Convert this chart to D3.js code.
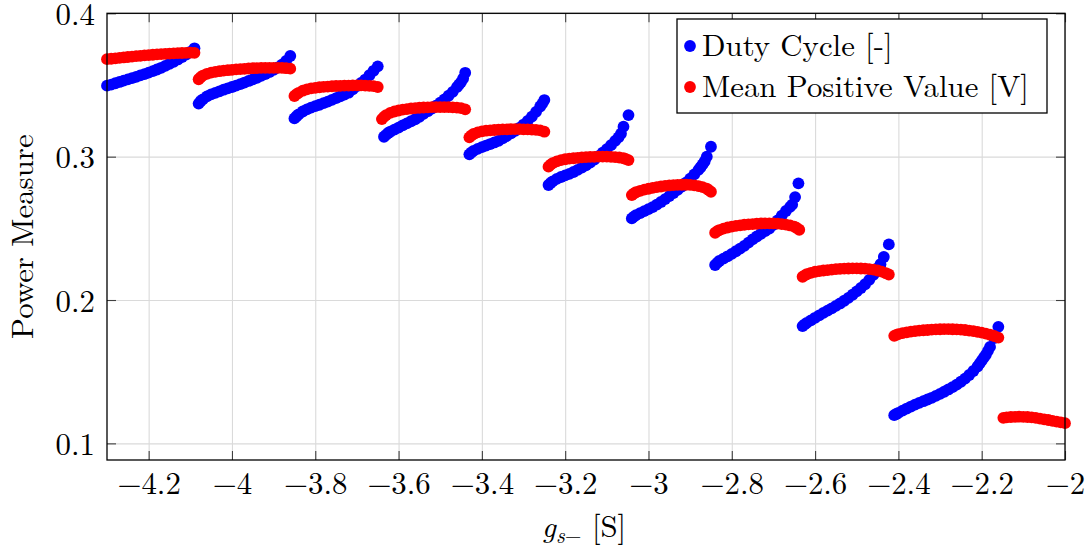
<!DOCTYPE html>
<html>
<head>
<meta charset="utf-8">
<script src="https://cdn.jsdelivr.net/npm/d3@7"></script>
<style>
  html, body { margin: 0; padding: 0; background: #fff; }
</style>
</head>
<body>
<svg id="chart" width="1091" height="551"></svg>
<script>
// ---- data ----
const xTicks = [-4.2, -4, -3.8, -3.6, -3.4, -3.2, -3, -2.8, -2.6, -2.4, -2.2, -2];
const yTicks = [0.1, 0.2, 0.3, 0.4];
const seriesNames = ["Duty Cycle [-]", "Mean Positive Value [V]"];
const seriesColors = ["#0000ff", "#ff0000"];

// Duty Cycle [-]  : [g_s-, value]
const dutyCycle = [
  // segment 1
  [-4.30,.3495],[-4.29,.3503],[-4.28,.3512],[-4.27,.3521],[-4.26,.3530],[-4.25,.3539],[-4.24,.3548],
  [-4.23,.3557],[-4.22,.3567],[-4.21,.3576],[-4.20,.3586],[-4.19,.3597],[-4.18,.3608],[-4.17,.3620],
  [-4.16,.3633],[-4.15,.3647],[-4.14,.3662],[-4.13,.3678],[-4.12,.3695],[-4.11,.3712],[-4.10,.3731],
  [-4.09,.3756],
  // segment 2
  [-4.08,.3370],[-4.075,.3388],[-4.07,.3400],[-4.06,.3420],[-4.05,.3434],[-4.04,.3445],[-4.03,.3456],
  [-4.02,.3467],[-4.01,.3477],[-4.00,.3486],[-3.99,.3496],[-3.98,.3506],[-3.97,.3517],[-3.96,.3528],
  [-3.95,.3539],[-3.94,.3550],[-3.93,.3563],[-3.92,.3576],[-3.91,.3590],[-3.90,.3605],[-3.89,.3622],
  [-3.88,.3642],[-3.87,.3668],[-3.86,.3702],
  // segment 3
  [-3.85,.3267],[-3.845,.3282],[-3.84,.3295],[-3.83,.3315],[-3.82,.3330],[-3.81,.3342],[-3.80,.3352],
  [-3.79,.3362],[-3.78,.3373],[-3.77,.3384],[-3.76,.3396],[-3.75,.3408],[-3.74,.3421],[-3.73,.3433],
  [-3.72,.3446],[-3.71,.3469],[-3.70,.3492],[-3.69,.3515],[-3.68,.3538],[-3.67,.3568],[-3.66,.3599],
  [-3.65,.3630],
  // segment 4
  [-3.635,.3139],[-3.63,.3152],[-3.625,.3165],[-3.62,.3174],[-3.61,.3189],[-3.60,.3203],[-3.59,.3218],
  [-3.58,.3232],[-3.57,.3247],[-3.56,.3261],[-3.55,.3278],[-3.54,.3298],[-3.53,.3317],[-3.52,.3336],
  [-3.51,.3356],[-3.50,.3377],[-3.49,.3400],[-3.48,.3425],[-3.47,.3452],[-3.46,.3485],[-3.455,.3503],
  [-3.45,.3520],[-3.445,.3545],[-3.44,.3585],
  // segment 5
  [-3.43,.3016],[-3.425,.3030],[-3.42,.3040],[-3.41,.3054],[-3.40,.3066],[-3.39,.3077],[-3.38,.3088],
  [-3.37,.3099],[-3.36,.3110],[-3.35,.3127],[-3.34,.3145],[-3.33,.3162],[-3.32,.3180],[-3.31,.3200],
  [-3.30,.3224],[-3.29,.3250],[-3.28,.3279],[-3.27,.3312],[-3.26,.3350],[-3.255,.3370],[-3.25,.3395],
  // segment 6
  [-3.24,.2802],[-3.235,.2816],[-3.23,.2828],[-3.22,.2845],[-3.21,.2858],[-3.20,.2869],[-3.19,.2880],
  [-3.18,.2893],[-3.17,.2908],[-3.16,.2923],[-3.15,.2940],[-3.14,.2959],[-3.13,.2980],[-3.12,.3003],
  [-3.11,.3028],[-3.10,.3053],[-3.09,.3080],[-3.08,.3110],[-3.072,.3135],[-3.066,.3160],[-3.06,.3209],
  [-3.048,.3290],
  // segment 7
  [-3.04,.2569],[-3.035,.2582],[-3.03,.2592],[-3.02,.2606],[-3.01,.2620],[-3.00,.2634],[-2.99,.2648],
  [-2.98,.2665],[-2.97,.2684],[-2.96,.2704],[-2.95,.2725],[-2.94,.2746],[-2.93,.2768],[-2.92,.2792],
  [-2.91,.2818],[-2.90,.2846],[-2.89,.2876],[-2.88,.2908],[-2.875,.2926],[-2.87,.2946],[-2.865,.2968],
  [-2.86,.3000],[-2.85,.3069],
  // segment 8
  [-2.84,.2244],[-2.835,.2259],[-2.83,.2272],[-2.82,.2289],[-2.81,.2305],[-2.80,.2322],[-2.79,.2340],
  [-2.78,.2359],[-2.77,.2378],[-2.76,.2400],[-2.75,.2423],[-2.74,.2443],[-2.73,.2462],[-2.72,.2480],
  [-2.71,.2498],[-2.70,.2524],[-2.69,.2556],[-2.68,.2589],[-2.67,.2621],[-2.66,.2650],[-2.655,.2665],
  [-2.648,.2718],[-2.64,.2814],
  // segment 9
  [-2.63,.1818],[-2.625,.1830],[-2.62,.1840],[-2.61,.1858],[-2.60,.1876],[-2.59,.1893],[-2.58,.1910],
  [-2.57,.1926],[-2.56,.1942],[-2.55,.1959],[-2.54,.1976],[-2.53,.1995],[-2.52,.2015],[-2.51,.2037],
  [-2.50,.2060],[-2.49,.2084],[-2.48,.2110],[-2.47,.2140],[-2.46,.2175],[-2.452,.2205],[-2.447,.2228],
  [-2.443,.2250],[-2.435,.2300],[-2.423,.2388],
  // segment 10
  [-2.41,.1197],[-2.405,.1205],[-2.40,.1213],[-2.39,.1228],[-2.38,.1243],[-2.37,.1257],[-2.36,.1270],
  [-2.35,.1282],[-2.34,.1294],[-2.33,.1306],[-2.32,.1318],[-2.31,.1331],[-2.30,.1345],[-2.29,.1360],
  [-2.28,.1376],[-2.27,.1392],[-2.26,.1410],[-2.25,.1430],[-2.24,.1452],[-2.23,.1477],[-2.22,.1505],
  [-2.21,.1536],[-2.205,.1556],[-2.20,.1577],[-2.195,.1598],[-2.19,.1618],[-2.185,.1645],[-2.18,.1673],
  [-2.17,.1735],[-2.16,.1813]
];

// Mean Positive Value [V] : [g_s-, value]
const meanPositive = [
  // segment 1
  [-4.30,.3680],[-4.29,.3683],[-4.28,.3686],[-4.27,.3689],[-4.26,.3692],[-4.25,.3695],[-4.24,.3698],
  [-4.23,.3701],[-4.22,.3703],[-4.21,.3706],[-4.20,.3708],[-4.19,.3711],[-4.18,.3713],[-4.17,.3715],
  [-4.16,.3717],[-4.15,.3719],[-4.14,.3720],[-4.13,.3722],[-4.12,.3723],[-4.11,.3724],[-4.10,.3725],
  [-4.09,.3724],
  // segment 2
  [-4.08,.3540],[-4.075,.3555],[-4.07,.3565],[-4.06,.3578],[-4.05,.3586],[-4.04,.3592],[-4.03,.3596],
  [-4.02,.3600],[-4.01,.3603],[-4.00,.3606],[-3.99,.3609],[-3.98,.3611],[-3.97,.3613],[-3.96,.3615],
  [-3.95,.3617],[-3.94,.3618],[-3.93,.3619],[-3.92,.3620],[-3.91,.3620],[-3.90,.3620],[-3.89,.3620],
  [-3.88,.3619],[-3.87,.3617],[-3.86,.3614],
  // segment 3
  [-3.85,.3423],[-3.845,.3436],[-3.84,.3445],[-3.83,.3460],[-3.82,.3470],[-3.81,.3476],[-3.80,.3480],
  [-3.79,.3484],[-3.78,.3487],[-3.77,.3489],[-3.76,.3491],[-3.75,.3493],[-3.74,.3494],[-3.73,.3495],
  [-3.72,.3496],[-3.71,.3497],[-3.70,.3497],[-3.69,.3497],[-3.68,.3496],[-3.67,.3494],[-3.66,.3492],
  [-3.65,.3486],
  // segment 4
  [-3.64,.3262],[-3.635,.3278],[-3.63,.3290],[-3.62,.3305],[-3.61,.3315],[-3.60,.3322],[-3.59,.3328],
  [-3.58,.3332],[-3.57,.3336],[-3.56,.3339],[-3.55,.3341],[-3.54,.3343],[-3.53,.3344],[-3.52,.3345],
  [-3.51,.3346],[-3.50,.3346],[-3.49,.3346],[-3.48,.3345],[-3.47,.3344],[-3.46,.3342],[-3.45,.3338],
  [-3.44,.3330],
  // segment 5
  [-3.43,.3135],[-3.425,.3148],[-3.42,.3158],[-3.41,.3169],[-3.40,.3176],[-3.39,.3181],[-3.38,.3184],
  [-3.37,.3186],[-3.36,.3188],[-3.35,.3190],[-3.34,.3191],[-3.33,.3192],[-3.32,.3192],[-3.31,.3192],
  [-3.30,.3191],[-3.29,.3190],[-3.28,.3189],[-3.27,.3187],[-3.26,.3183],[-3.25,.3174],
  // segment 6
  [-3.24,.2930],[-3.235,.2944],[-3.23,.2955],[-3.22,.2967],[-3.21,.2976],[-3.20,.2982],[-3.19,.2986],
  [-3.18,.2989],[-3.17,.2992],[-3.16,.2995],[-3.15,.2997],[-3.14,.2998],[-3.13,.2999],[-3.12,.3000],
  [-3.11,.3000],[-3.10,.3000],[-3.09,.2999],[-3.08,.2997],[-3.07,.2994],[-3.06,.2989],[-3.055,.2985],
  [-3.048,.2976],
  // segment 7
  [-3.04,.2732],[-3.035,.2743],[-3.03,.2752],[-3.02,.2762],[-3.01,.2770],[-3.00,.2776],[-2.99,.2782],
  [-2.98,.2787],[-2.97,.2792],[-2.96,.2796],[-2.95,.2799],[-2.94,.2801],[-2.93,.2803],[-2.92,.2804],
  [-2.91,.2804],[-2.90,.2803],[-2.89,.2800],[-2.88,.2795],[-2.87,.2788],[-2.86,.2776],[-2.855,.2767],
  [-2.85,.2755],
  // segment 8
  [-2.84,.2469],[-2.835,.2480],[-2.83,.2488],[-2.82,.2498],[-2.81,.2506],[-2.80,.2512],[-2.79,.2517],
  [-2.78,.2521],[-2.77,.2525],[-2.76,.2528],[-2.75,.2530],[-2.74,.2532],[-2.73,.2534],[-2.72,.2535],
  [-2.71,.2535],[-2.70,.2534],[-2.69,.2533],[-2.68,.2530],[-2.67,.2526],[-2.66,.2520],[-2.65,.2512],
  [-2.645,.2504],[-2.638,.2490],
  // segment 9
  [-2.63,.2162],[-2.625,.2172],[-2.62,.2180],[-2.61,.2190],[-2.60,.2197],[-2.59,.2202],[-2.58,.2206],
  [-2.57,.2209],[-2.56,.2212],[-2.55,.2215],[-2.54,.2217],[-2.53,.2219],[-2.52,.2220],[-2.51,.2221],
  [-2.50,.2221],[-2.49,.2220],[-2.48,.2219],[-2.47,.2216],[-2.46,.2212],[-2.45,.2206],[-2.44,.2198],
  [-2.43,.2187],[-2.423,.2178],
  // segment 10
  [-2.41,.1750],[-2.405,.1757],[-2.40,.1762],[-2.39,.1769],[-2.38,.1774],[-2.37,.1779],[-2.36,.1783],
  [-2.35,.1786],[-2.34,.1789],[-2.33,.1791],[-2.32,.1793],[-2.31,.1795],[-2.30,.1796],[-2.29,.1797],
  [-2.28,.1797],[-2.27,.1796],[-2.26,.1795],[-2.25,.1793],[-2.24,.1791],[-2.23,.1787],[-2.22,.1783],
  [-2.21,.1778],[-2.20,.1773],[-2.19,.1766],[-2.18,.1758],[-2.17,.1749],[-2.16,.1738],
  // segment 11
  [-2.148,.1178],[-2.14,.1181],[-2.13,.1184],[-2.12,.1185],[-2.11,.1186],[-2.10,.1185],[-2.09,.1184],
  [-2.08,.1181],[-2.07,.1178],[-2.06,.1173],[-2.05,.1168],[-2.04,.1163],[-2.03,.1157],[-2.02,.1152],
  [-2.01,.1146],[-2.00,.1141]
];

// ---- layout ----
const W = 1091, H = 551;
const margin = { left: 107, right: 26, top: 13.3, bottom: 91 };
const iw = W - margin.left - margin.right;
const ih = H - margin.top - margin.bottom;
const R = 5.9;
const FAMILY = '"Latin Modern Roman", "Liberation Serif", serif';

const svg = d3.select("#chart");

// font size chosen so the legend's long entry spans ~327px, as in the reference
const probe = svg.append("text").style("font-family", FAMILY).attr("font-size", 30).text(seriesNames[1]);
const pw = probe.node().getComputedTextLength();
probe.remove();
const FONT = Math.max(24, Math.min(34, 30 * 327 / pw));

const g = svg.append("g").attr("transform", `translate(${margin.left},${margin.top})`);

const x = d3.scaleLinear().domain([-4.3, -2]).range([0, iw]);
const y = d3.scaleLinear().domain([0.0884, 0.4]).range([ih, 0]);
const fmt = d3.format("");

// grid
g.append("g")
  .attr("transform", `translate(0,${ih})`)
  .call(d3.axisBottom(x).tickValues(xTicks).tickSize(-ih).tickFormat(""))
  .call(s => s.select(".domain").remove())
  .call(s => s.selectAll("line").attr("stroke", "#dadada").attr("stroke-width", 1.1));
g.append("g")
  .call(d3.axisLeft(y).tickValues(yTicks).tickSize(-iw).tickFormat(""))
  .call(s => s.select(".domain").remove())
  .call(s => s.selectAll("line").attr("stroke", "#dadada").attr("stroke-width", 1.1));

// inward ticks on all four sides
const TL = 9;
function ticksOnly(sel) {
  sel.select(".domain").remove();
  sel.selectAll("line").attr("stroke", "#404040").attr("stroke-width", 1.1);
}
g.append("g").attr("transform", `translate(0,${ih})`)
  .call(d3.axisBottom(x).tickValues(xTicks).tickSize(-TL).tickFormat("")).call(ticksOnly);
g.append("g")
  .call(d3.axisTop(x).tickValues(xTicks).tickSize(-TL).tickFormat("")).call(ticksOnly);
g.append("g")
  .call(d3.axisLeft(y).tickValues(yTicks).tickSize(-TL).tickFormat("")).call(ticksOnly);
g.append("g").attr("transform", `translate(${iw},0)`)
  .call(d3.axisRight(y).tickValues(yTicks).tickSize(-TL).tickFormat("")).call(ticksOnly);

// tick labels
g.append("g").attr("transform", `translate(0,${ih})`)
  .call(d3.axisBottom(x).tickValues(xTicks).tickSize(0).tickPadding(12).tickFormat(fmt))
  .call(s => s.select(".domain").remove())
  .call(s => s.selectAll("text").style("font-family", FAMILY).attr("font-size", FONT).attr("fill", "#000"));
g.append("g")
  .call(d3.axisLeft(y).tickValues(yTicks).tickSize(0).tickPadding(12).tickFormat(fmt))
  .call(s => s.select(".domain").remove())
  .call(s => s.selectAll("text").style("font-family", FAMILY).attr("font-size", FONT).attr("fill", "#000").attr("dy", "0.36em"));

// series (duty cycle first, mean positive value drawn on top)
[dutyCycle, meanPositive].forEach((data, i) => {
  g.append("g").selectAll("circle").data(data).join("circle")
    .attr("cx", d => x(d[0]))
    .attr("cy", d => y(d[1]))
    .attr("r", R)
    .attr("fill", seriesColors[i]);
});

// frame
g.append("rect").attr("x", 0).attr("y", 0).attr("width", iw).attr("height", ih)
  .attr("fill", "none").attr("stroke", "#000").attr("stroke-width", 1.3);

// axis titles
svg.append("text")
  .attr("transform", `translate(33,${margin.top + ih / 2}) rotate(-90)`)
  .attr("text-anchor", "middle")
  .style("font-family", FAMILY)
  .attr("font-size", FONT)
  .text("Power Measure");

const xl = svg.append("text")
  .attr("x", margin.left + iw / 2 - 2)
  .attr("y", 537)
  .attr("text-anchor", "middle")
  .style("font-family", FAMILY)
  .attr("font-size", FONT);
xl.append("tspan").attr("font-style", "italic").text("g");
xl.append("tspan").attr("font-size", FONT * 0.7).attr("dy", 6).attr("font-style", "italic").text("s");
xl.append("tspan").attr("font-size", FONT * 0.7).text("−");
xl.append("tspan").attr("dy", -6).text(" [S]");

// legend
const lg = svg.append("g").attr("transform", "translate(677,19)");
lg.append("rect").attr("width", 370).attr("height", 94)
  .attr("fill", "#fff").attr("stroke", "#000").attr("stroke-width", 1.3);
seriesNames.forEach((name, i) => {
  const yy = 27 + i * 41;
  lg.append("circle").attr("cx", 13).attr("cy", yy).attr("r", R).attr("fill", seriesColors[i]);
  lg.append("text").attr("x", 25).attr("y", yy).attr("dy", "0.33em")
    .style("font-family", FAMILY).attr("font-size", FONT).text(name);
});
</script>
</body>
</html>
